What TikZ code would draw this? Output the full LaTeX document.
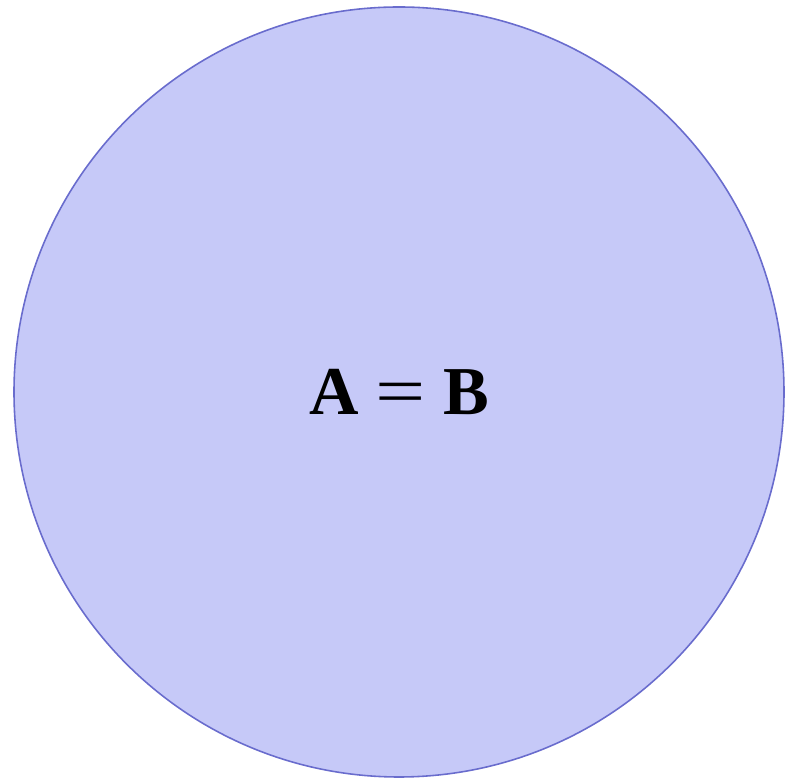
\documentclass[tikz,border=0pt]{standalone}
\usepackage{graphicx}
\usepackage{fontspec}
\setmainfont{Liberation Serif}[BoldFont={Liberation Serif Bold}]
\definecolor{setfill}{RGB}{198,201,248}
\definecolor{setline}{RGB}{105,108,205}

\begin{document}
\begin{tikzpicture}[x=0.02cm,y=0.02cm,line width=0.9pt]
  \useasboundingbox (0,0) rectangle (785,780);
  % conjunto
  \draw[setline,fill=setfill] (399,388) circle[radius=385];
  \node (eq) at (399,388) {\fontsize{39}{42}\selectfont\textbf{A}\hspace{0.25em}\scalebox{1.3}[1]{=}\hspace{0.25em}\textbf{B}};
\end{tikzpicture}
\end{document}
